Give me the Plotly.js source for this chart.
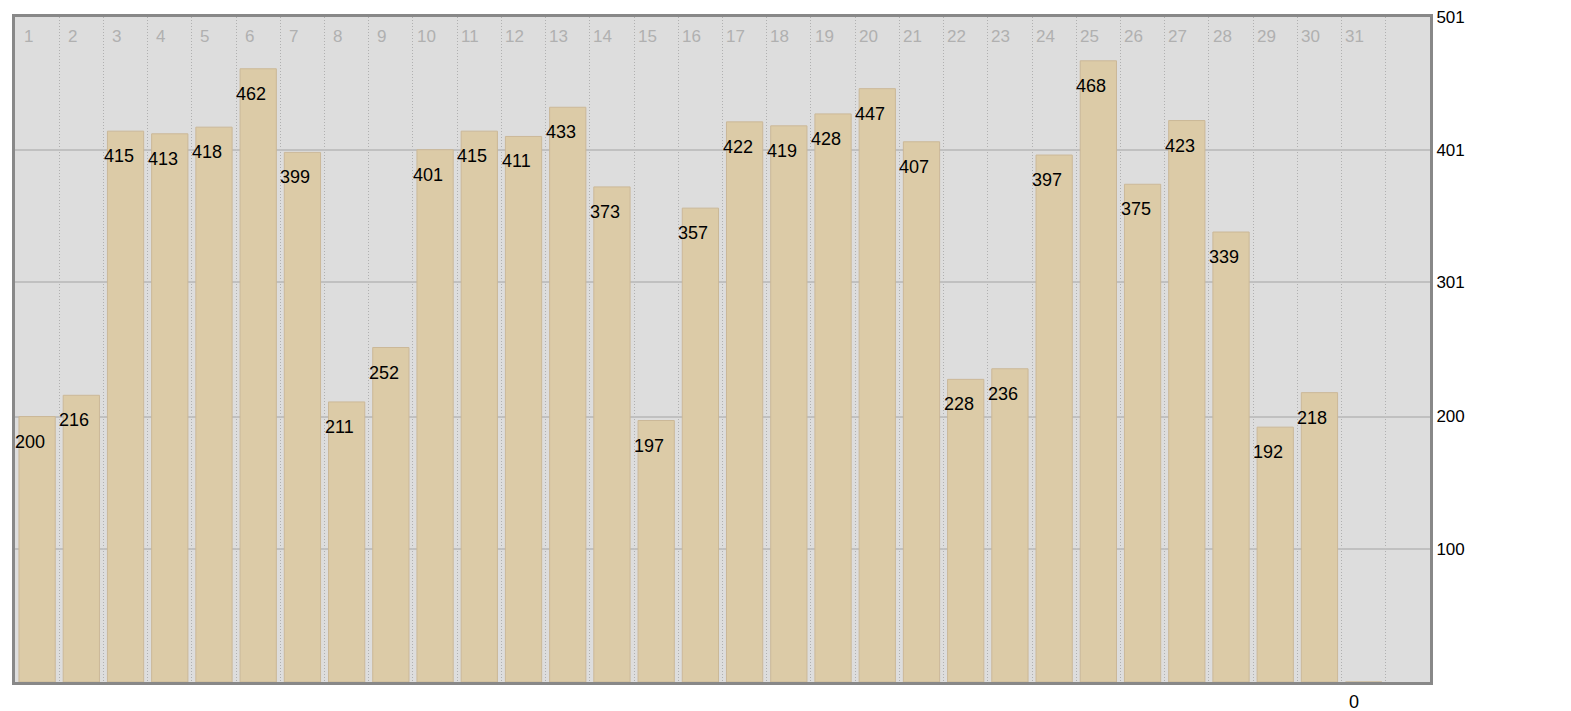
<!DOCTYPE html>
<html>
<head>
<meta charset="utf-8">
<script src="https://cdn.plot.ly/plotly-3.0.1.min.js"></script>
<style>
html,body{margin:0;padding:0;background:#ffffff;}
#chart{width:1571px;height:711px;}
</style>
</head>
<body>
<div id="chart"></div>
<script>
const days = [1,2,3,4,5,6,7,8,9,10,11,12,13,14,15,16,17,18,19,20,21,22,23,24,25,26,27,28,29,30,31];
const values = [200,216,415,413,418,462,399,211,252,401,415,411,433,373,197,357,422,419,428,447,407,228,236,397,468,375,423,339,192,218,0];
const yTickVals = [100,200,301,401,501];
const yTickText = ['100','200','301','401','501'];

const FONT = 'Liberation Sans, Arial, sans-serif';

const trace = {
  type: 'bar',
  x: days,
  y: values,
  width: 0.82,
  marker: {color: '#dccba7', line: {color: '#cbb898', width: 1}},
  hoverinfo: 'x+y'
};

const annotations = [];
days.forEach((d, i) => {
  annotations.push({
    x: d, y: values[i], xref: 'x', yref: 'y',
    text: String(values[i]), showarrow: false,
    xanchor: 'center', yanchor: 'middle',
    xshift: values[i] === 0 ? -10 : -7,
    yshift: values[i] === 0 ? -20 : -25,
    font: {family: FONT, size: 18, color: '#000000'}
  });
  annotations.push({
    x: d, y: 1, xref: 'x', yref: 'paper',
    text: String(d), showarrow: false,
    xanchor: 'center', yanchor: 'middle',
    xshift: -9, yshift: -19,
    font: {family: FONT, size: 17, color: '#b0b0b0'}
  });
});

const layout = {
  width: 1571, height: 711,
  margin: {l: 15, r: 141, t: 17, b: 29, pad: 0},
  paper_bgcolor: '#ffffff',
  plot_bgcolor: '#dddddd',
  showlegend: false,
  bargap: 0,
  xaxis: {
    range: [0.5, 32.5],
    tickvals: days.map(d => d + 0.5),
    showticklabels: false,
    ticks: '',
    showgrid: true,
    gridcolor: '#b0b0b0',
    griddash: '1px,2px',
    gridwidth: 1,
    zeroline: false,
    showline: true, mirror: true, linewidth: 3, linecolor: '#888888',
    fixedrange: true
  },
  yaxis: {
    range: [0, 501],
    side: 'right',
    tickvals: yTickVals,
    ticktext: yTickText,
    ticks: '',
    showgrid: true,
    gridcolor: '#c0c0c0',
    gridwidth: 2,
    zeroline: false,
    showline: true, mirror: true, linewidth: 3, linecolor: '#888888',
    tickfont: {family: FONT, size: 17, color: '#000000'},
    fixedrange: true
  },
  annotations: annotations
};

Plotly.newPlot('chart', [trace], layout, {displayModeBar: false, staticPlot: true});
</script>
</body>
</html>
